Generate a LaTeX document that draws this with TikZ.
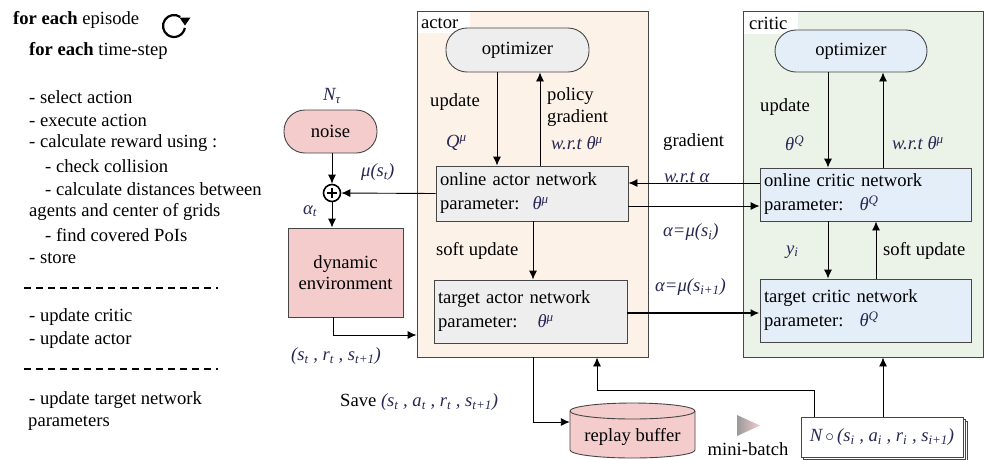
\documentclass[tikz,border=0pt]{standalone}
\usepackage{fontspec}
\setmainfont{Liberation Serif}
\usetikzlibrary{arrows.meta}
\definecolor{actbg}{RGB}{253,242,231}
\definecolor{critbg}{RGB}{235,243,232}
\definecolor{greybox}{RGB}{238,238,238}
\definecolor{bluebox}{RGB}{228,238,249}
\definecolor{pinkbox}{RGB}{244,204,204}
\definecolor{edgec}{RGB}{70,70,70}
\definecolor{mathc}{RGB}{40,40,85}
\newcommand{\mv}[1]{{\color{mathc}\itshape #1}}
\newcommand{\sps}[1]{\textsuperscript{\itshape #1}}
\newcommand{\sbs}[1]{\textsubscript{\itshape #1}}
\begin{document}
\begin{tikzpicture}[x=1pt,y=-1pt,
  every node/.style={font=\fontsize{18.6}{24}\selectfont},
  lbl/.style={anchor=west,inner sep=0pt},
  arr/.style={draw=black,line width=0.9pt,-{Latex[length=9pt,width=8pt]}},
  box/.style={draw=edgec,line width=0.9pt,align=left,anchor=center,inner sep=4pt},
  pill/.style={draw=edgec,line width=0.9pt,rounded corners=21pt},
  cont/.style={draw=edgec,line width=0.9pt,inner sep=0pt}]
\useasboundingbox (0,0) rectangle (984,459);
% ---------- left text ----------
\node[lbl] (t1) at (13,20) {\textbf{for each} episode};
\node[lbl] (t2) at (29,51) {\textbf{for each} time-step};
\node[lbl] (t3) at (29,97) {- select action};
\node[lbl] (t4) at (29,120) {- execute action};
\node[lbl] (t5) at (29,143) {- calculate reward using :};
\node[lbl] (t6) at (45,166) {- check collision};
\node[lbl] (t7) at (45,189) {- calculate distances between};
\node[lbl] (t8) at (29,212) {agents and center of grids};
\node[lbl] (t9) at (45,235) {- find covered PoIs};
\node[lbl] (t10) at (29,258) {- store};
\node[lbl] (t11) at (29,317) {- update critic};
\node[lbl] (t12) at (29,340) {- update actor};
\node[lbl] (t13) at (29,400) {- update target network};
\node[lbl] (t14) at (28,423) {parameters};
\draw[line width=1.3pt,dash pattern=on 7pt off 5pt] (24,288) -- (218,288);
\draw[line width=1.3pt,dash pattern=on 7pt off 5pt] (24,369) -- (218,369);
% loop icon
\draw[line width=2.2pt] ([shift={(-55:11)}]174,26) arc (-55:-350:11);
\fill (179.5,17.5) -- (190.5,17.5) -- (185,25.5) -- cycle;
% ---------- containers ----------
\node[cont,fill=actbg,minimum width=231pt,minimum height=346pt] (actbox) at (532.5,184) {};
\node[cont,fill=critbg,minimum width=240pt,minimum height=346pt] (critbox) at (863,184) {};
\fill[white] (417.5,11.5) rectangle (470,33);
\fill[white] (743.5,11.5) rectangle (798,34);
\node[lbl] (actlbl) at (421,23) {actor};
\node[lbl] (critlbl) at (749,23) {critic};
% ---------- nodes ----------
\node[pill,fill=greybox,minimum width=143pt,minimum height=44pt] (aopt) at (517.5,50) {optimizer};
\node[pill,fill=bluebox,minimum width=152pt,minimum height=42pt] (copt) at (851,51) {optimizer};
\node[pill,fill=pinkbox,minimum width=93pt,minimum height=43pt] (noise) at (330.5,131.5) {noise};
\node[draw=black,line width=1.6pt,circle,minimum size=17pt,inner sep=0pt] (plus) at (332,193) {};
\draw[line width=1.6pt] ([xshift=-5pt]plus.center) -- ([xshift=5pt]plus.center);
\draw[line width=1.6pt] ([yshift=-5pt]plus.center) -- ([yshift=5pt]plus.center);
\node[box,fill=pinkbox,minimum width=115pt,minimum height=89pt,align=center] (env) at (345.5,272.5) {dynamic\\[-3pt]environment};
\node[box,fill=greybox,minimum width=192pt,minimum height=55pt,text width=184pt] (ao) at (532,193.5) {online actor network\\parameter:\hspace{13pt}\mv{θ}\sps{\color{mathc}μ}};
\node[box,fill=greybox,minimum width=193pt,minimum height=63pt,text width=185pt] (at) at (530.5,311.5) {target actor network\\parameter:\hspace{20pt}\mv{θ}\sps{\color{mathc}μ}};
\node[box,fill=bluebox,minimum width=211pt,minimum height=53pt,text width=203pt] (co) at (865.5,194.5) {online critic network\\parameter:\hspace{16pt}\mv{θ}\sps{\color{mathc}Q}};
\node[box,fill=bluebox,minimum width=211pt,minimum height=63pt,text width=203pt] (ct) at (865.5,310.5) {target critic network\\parameter:\hspace{16pt}\mv{θ}\sps{\color{mathc}Q}};
% replay buffer cylinder
\node[minimum width=125pt,minimum height=55pt,inner sep=0pt] (buf) at (632.5,430.5) {};
\filldraw[draw=edgec,line width=0.9pt,fill=pinkbox] (570,411) -- (570,450) arc (180:0:62.5 and 8) -- (695,411) arc (0:-180:62.5 and 8) -- cycle;
\draw[edgec,line width=0.9pt] (570,411) arc (180:0:62.5 and 8);
\node (buflbl) at (632.5,437) {replay buffer};
\shade[left color=gray!80,right color=pinkbox] (737,415) -- (737,436) -- (760,425.5) -- cycle;
\node (mb) at (748,449) {mini-batch};
\draw[edgec,line width=0.7pt,fill=white] (805,421) rectangle (967,461);
\draw[edgec,line width=0.7pt,fill=white] (803,419) rectangle (965,459);
\node[draw=edgec,line width=0.9pt,fill=white,minimum width=162pt,minimum height=40pt,inner sep=1pt] (nb) at (882,437) {\mv{N}\,{\color{mathc}$\circ$}\,\mv{(s\sbs{i} , a\sbs{i} , r\sbs{i} , s\sbs{i+1})}};
% ---------- labels ----------
\node (ntau) at (332,96) {\mv{N}\sbs{\color{mathc}τ}};
\node[lbl] (mu) at (361,172) {\mv{μ(s\sbs{t})}};
\node[lbl] (alt) at (303,211) {\mv{α\sbs{t}}};
\node[lbl] (str) at (291,356) {\mv{(s\sbs{t} , r\sbs{t} , s\sbs{t+1})}};
\node[lbl] (save) at (340,402) {Save \mv{(s\sbs{t} , a\sbs{t} , r\sbs{t} , s\sbs{t+1})}};
\node[lbl] (upd1) at (430,102) {update};
\node[lbl] (qmu) at (446,143) {\mv{Q}\sps{\color{mathc}μ}};
\node[lbl] (pol) at (547,96) {policy};
\node[lbl] (grd) at (547,118) {gradient};
\node[lbl] (wrt1) at (551,143) {\mv{w.r.t θ}\sps{\color{mathc}μ}};
\node[lbl] (sft1) at (436,251) {soft update};
\node[lbl] (grd2) at (663,142) {gradient};
\node[lbl] (wrta) at (664,177) {\mv{w.r.t α}};
\node[lbl] (amu) at (663,232) {\mv{α=μ(s\sbs{i})}};
\node[lbl] (amu2) at (655,287) {\mv{α=μ(s\sbs{i+1})}};
\node[lbl] (upd2) at (760,107) {update};
\node[lbl] (thq) at (785,143) {\mv{θ}\sps{\color{mathc}Q}};
\node[lbl] (wrt2) at (892,143) {\mv{w.r.t θ}\sps{\color{mathc}μ}};
\node[lbl] (yi) at (786,252) {\mv{y\sbs{i}}};
\node[lbl] (sft2) at (883,251) {soft update};
% ---------- connectors ----------
\draw[arr] (aopt.south -| 497,0) -- (ao.north -| 497,0);
\draw[arr] (ao.north -| 540,0) -- (aopt.south -| 540,0);
\draw[arr] (ao.west) -- (plus.east);
\draw[arr] (noise.south -| plus) -- (plus.north);
\draw[arr] (plus.south) -- (env.north -| plus);
\draw[arr] (env.south -| 333,0) |- (actbox.west |- 0,335);
\draw[arr] (ao.south -| 533,0) -- (at.north -| 533,0);
\draw[arr] (co.west |- 0,183) -- (ao.east |- 0,183);
\draw[arr] (ao.east |- 0,206) -- (co.west |- 0,206);
\draw[arr,line width=1.8pt] (at.east |- 0,313) -- (ct.west |- 0,313);
\draw[arr] (copt.south -| 828,0) -- (co.north -| 828,0);
\draw[arr] (co.north -| 883,0) -- (copt.south -| 883,0);
\draw[arr] (co.south -| 828,0) -- (ct.north -| 828,0);
\draw[arr] (ct.north -| 876,0) -- (co.south -| 876,0);
\draw[arr] (actbox.south -| 533,0) |- (buf.west |- 0,422);
\draw[arr] (nb.north -| 814,0) -- (814,390) -| (actbox.south -| 597,0);
\draw[arr] (nb.north -| 883,0) -- (critbox.south -| 883,0);
\end{tikzpicture}
\end{document}
